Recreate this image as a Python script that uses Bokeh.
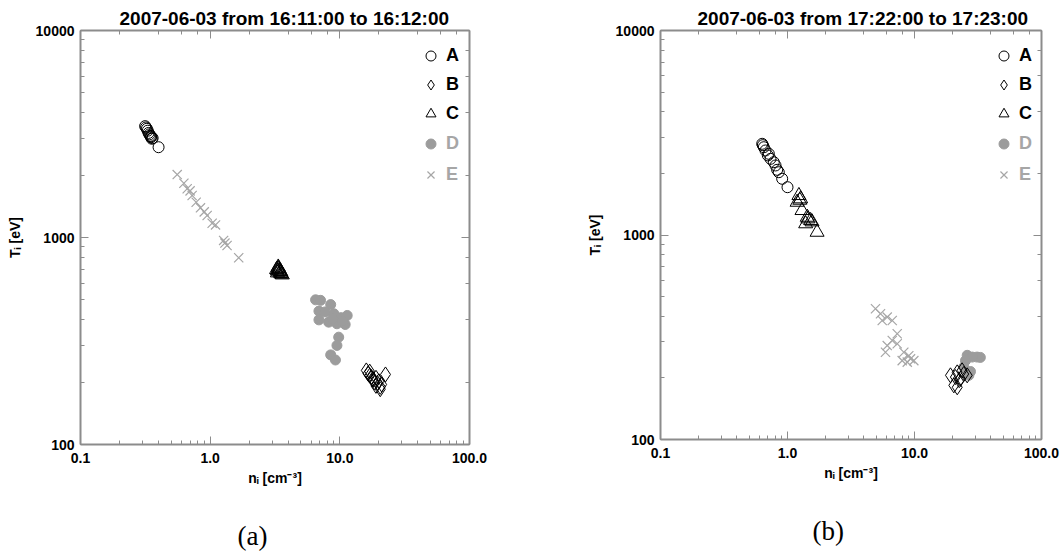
import math
from bokeh.plotting import figure
from bokeh.layouts import row
from bokeh.models import (LogAxis, Title, Legend, LegendItem, CustomJSTickFormatter, Range1d)
from bokeh.embed import file_html
from bokeh.resources import INLINE

# ---------------- data ----------------
titles = ["2007-06-03 from 16:11:00 to 16:12:00", "2007-06-03 from 17:22:00 to 17:23:00"]
tags = ["(a)", "(b)"]
series_names = ["A", "B", "C", "D", "E"]

# panel (a)
a_A_n = [0.315, 0.32, 0.325, 0.33, 0.335, 0.34, 0.345, 0.35, 0.355, 0.36, 0.35, 0.40]
a_A_T = [3450, 3400, 3350, 3280, 3200, 3150, 3100, 3050, 3000, 3020, 3080, 2730]
a_B_n = [16.0, 16.5, 17.0, 17.5, 18.0, 18.5, 19.0, 19.5, 20.0, 20.5, 21.0, 22.5, 20.5, 18.0, 17.0, 19.0]
a_B_T = [228, 220, 225, 212, 208, 200, 210, 198, 202, 190, 195, 218, 185, 205, 215, 192]
a_C_n = [3.25, 3.3, 3.35, 3.4, 3.45, 3.5, 3.55, 3.6, 3.35, 3.4, 3.3, 3.5]
a_C_T = [700, 690, 720, 705, 680, 670, 665, 660, 710, 690, 675, 685]
a_D_n = [6.5, 7.1, 8.5, 6.9, 7.7, 9.0, 11.4, 6.9, 8.2, 9.5, 11.0, 9.8, 9.5, 8.5, 9.25, 10.2, 8.8, 10.5]
a_D_T = [500, 497, 474, 441, 437, 428, 420, 400, 390, 383, 380, 330, 301, 271, 256, 410, 405, 395]
a_E_n = [0.557, 0.627, 0.665, 0.70, 0.726, 0.78, 0.842, 0.90, 0.948, 1.036, 1.10, 1.27, 1.30, 1.35, 1.66]
a_E_T = [2013, 1829, 1720, 1680, 1596, 1480, 1391, 1330, 1277, 1172, 1150, 968, 940, 915, 798]

# panel (b)
b_A_n = [0.632, 0.651, 0.671, 0.713, 0.735, 0.780, 0.805, 0.829, 0.854, 0.908, 1.0, 0.64, 0.70]
b_A_T = [2792, 2687, 2590, 2495, 2358, 2270, 2188, 2083, 2028, 1883, 1713, 2750, 2450]
b_B_n = [21.7, 23.7, 26.0, 21.0, 23.0, 20.4, 21.7, 24.4, 19.2, 22.5]
b_B_T = [213, 218, 206, 202, 198, 184, 180, 209, 206, 195]
b_C_n = [1.23, 1.27, 1.19, 1.30, 1.43, 1.52, 1.39, 1.56, 1.71, 1.25, 1.45]
b_C_T = [1560, 1503, 1447, 1318, 1222, 1177, 1135, 1160, 1032, 1480, 1200]
b_D_n = [26.0, 31.1, 33.0, 28.5, 25.2, 24.4, 26.8, 27.6]
b_D_T = [258, 253, 252, 253, 243, 226, 206, 215]
b_E_n = [4.93, 5.40, 6.10, 6.68, 5.57, 7.31, 6.68, 6.10, 5.91, 7.31, 8.24, 9.02, 9.31, 8.0, 9.88, 8.77]
b_E_T = [436, 412, 397, 382, 382, 329, 305, 288, 267, 294, 267, 257, 248, 243, 243, 239]

x_limits = (0.1, 100.0)
y_limits = (100, 10000)

# ---------------- styling ----------------
FONT = "Liberation Sans"
AX_GRAY = "#8c8c8c"
D_GRAY = "#9c9c9c"
E_GRAY = "#a6a6a6"


def style_axis(ax, labels=True):
    ax.axis_line_color = AX_GRAY
    ax.axis_line_width = 2
    ax.major_tick_line_color = AX_GRAY
    ax.minor_tick_line_color = AX_GRAY
    ax.major_tick_line_width = 1
    ax.minor_tick_line_width = 1
    ax.major_tick_in = 8
    ax.major_tick_out = 0
    ax.minor_tick_in = 4
    ax.minor_tick_out = 0
    ax.major_label_text_font = FONT
    ax.major_label_text_font_style = "bold"
    ax.major_label_text_font_size = "14px"
    ax.major_label_text_color = "black"
    ax.axis_label_text_font = FONT
    ax.axis_label_text_font_style = "bold"
    ax.axis_label_text_font_size = "14px"
    ax.axis_label_text_color = "black"
    if not labels:
        ax.major_label_text_font_size = "0px"
        ax.major_label_standoff = 0
        ax.formatter = CustomJSTickFormatter(code="return ''")


def make_panel(title, tag, A, B, C, D, E, fw, fh, bl, br, bb, leg_x, title_off, tag_off):
    p = figure(x_axis_type="log", y_axis_type="log",
               x_range=Range1d(*x_limits), y_range=Range1d(*y_limits),
               frame_width=fw, frame_height=fh,
               min_border_left=bl, min_border_right=br, min_border_top=30, min_border_bottom=bb,
               output_backend="svg", toolbar_location=None, title=None,
               background_fill_color="white", border_fill_color="white")
    p.grid.visible = False
    p.outline_line_color = None

    rD = p.scatter(D[0], D[1], marker="circle", size=10, fill_color=D_GRAY, line_color=D_GRAY)
    rE = p.scatter(E[0], E[1], marker="x", size=13, line_color=E_GRAY, line_width=1.2)
    rA = p.scatter(A[0], A[1], marker="circle", size=11, fill_color=None, line_color="black", line_width=1)
    rB = p.scatter(B[0], B[1], marker="diamond", size=15, fill_color=None,
                   line_color="black", line_width=1)
    rC = p.scatter(C[0], C[1], marker="triangle", size=14, fill_color=None, line_color="black", line_width=1)

    xa = p.xaxis[0]
    ya = p.yaxis[0]
    style_axis(xa)
    style_axis(ya)
    xa.formatter = CustomJSTickFormatter(code="return tick.toFixed(1)")
    ya.formatter = CustomJSTickFormatter(code="return tick.toFixed(0)")
    xa.axis_label = "n\u1d62 [cm\u207b\u00b3]"
    ya.axis_label = "T\u1d62 [eV]"
    xa.major_label_standoff = 8
    ya.major_label_standoff = 6
    xa.axis_label_standoff = 4
    ya.axis_label_standoff = 10

    top = LogAxis()
    right = LogAxis()
    style_axis(top, labels=False)
    style_axis(right, labels=False)
    p.add_layout(top, "above")
    p.add_layout(right, "right")

    p.add_layout(Title(text=title, align="left", offset=title_off, text_font=FONT, text_color="black",
                       text_font_size="19px", text_font_style="bold", standoff=4), "above")

    # sub-figure tag under the x-axis label (an empty first line keeps it low)
    p.add_layout(Title(text="\n" + tag, align="left", offset=tag_off, text_font="Liberation Serif",
                       text_font_size="27px", text_font_style="normal", text_color="black",
                       standoff=0), "below")

    common = dict(padding=0, margin=0, border_line_color=None, background_fill_alpha=0,
                  glyph_width=25, glyph_height=25, label_height=25, label_standoff=3,
                  label_text_font=FONT, label_text_font_style="bold", label_text_font_size="18px",
                  label_text_baseline="middle")
    leg1 = Legend(items=[LegendItem(label=series_names[0], renderers=[rA]),
                         LegendItem(label=series_names[1], renderers=[rB]),
                         LegendItem(label=series_names[2], renderers=[rC])],
                  location=(leg_x, fh - 96), spacing=4, label_text_color="black", **common)
    leg2 = Legend(items=[LegendItem(label=series_names[3], renderers=[rD]),
                         LegendItem(label=series_names[4], renderers=[rE])],
                  location=(leg_x, fh - 157), spacing=6, label_text_color=E_GRAY, **common)
    p.add_layout(leg1)
    p.add_layout(leg2)
    return p


pa = make_panel(titles[0], tags[0], (a_A_n, a_A_T), (a_B_n, a_B_T), (a_C_n, a_C_T),
                (a_D_n, a_D_T), (a_E_n, a_E_T),
                fw=389, fh=414, bl=80, br=71, bb=112, leg_x=338, title_off=39, tag_off=157)
pb = make_panel(titles[1], tags[1], (b_A_n, b_A_T), (b_B_n, b_B_T), (b_C_n, b_C_T),
                (b_D_n, b_D_T), (b_E_n, b_E_T),
                fw=381, fh=409, bl=120, br=22, bb=117, leg_x=331, title_off=37, tag_off=152)

layout = row(pa, pb)
open("out.html", "w").write(file_html(layout, INLINE))
